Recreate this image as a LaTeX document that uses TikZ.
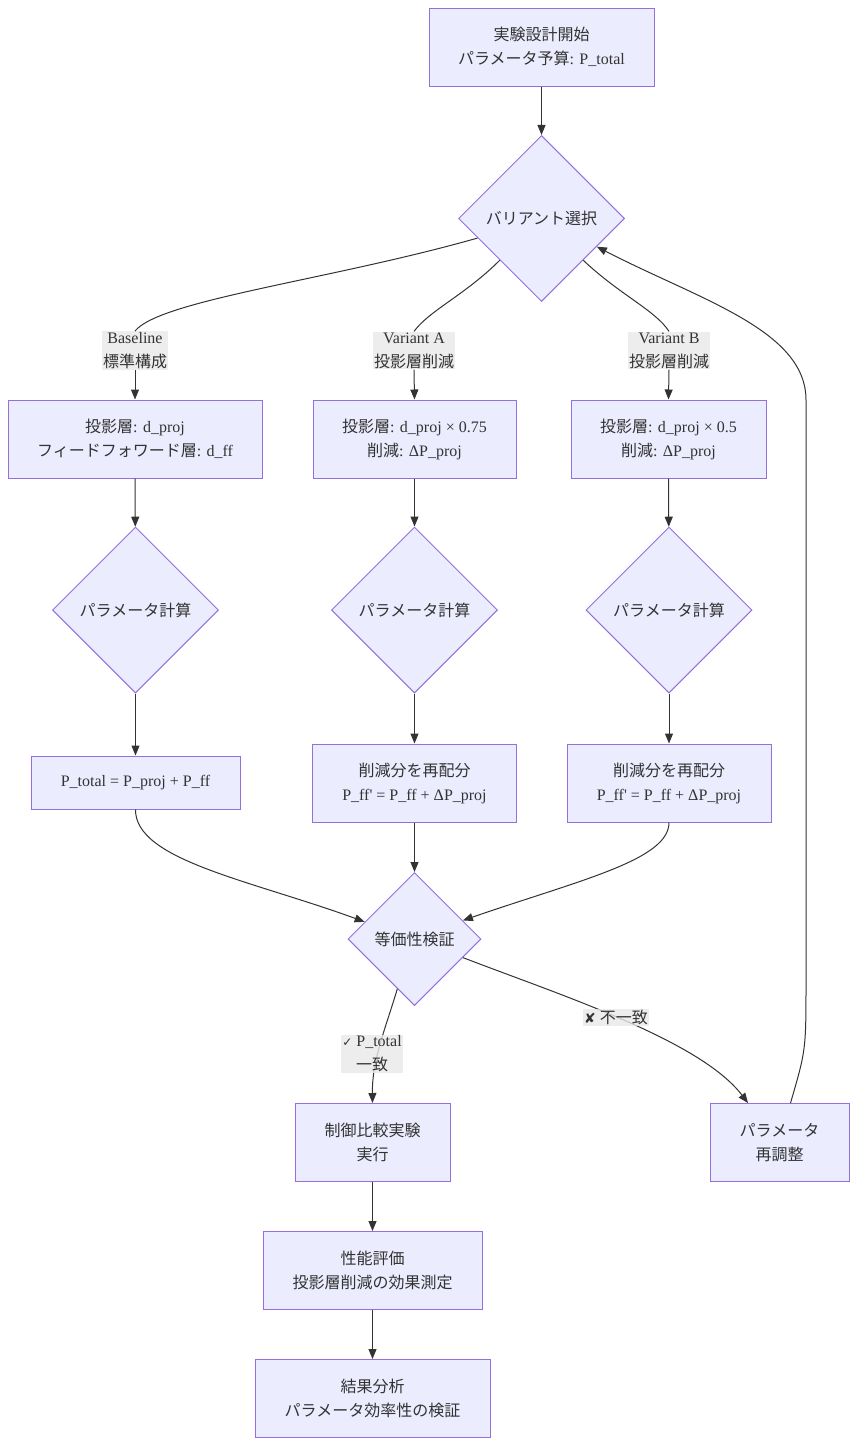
\documentclass[tikz,border=0pt]{standalone}
\usepackage{fontspec}
\setmainfont{Liberation Serif}
\newfontfamily\jp{Noto Sans CJK JP}
\newfontfamily\sym{DejaVu Sans}
\usepackage{tikz}
\usetikzlibrary{arrows.meta,positioning,shapes.geometric}
\definecolor{colorFill}{HTML}{ECECFF}
\definecolor{colorBorder}{HTML}{9370DB}
\definecolor{colorLine}{HTML}{333333}
\definecolor{colorLabel}{HTML}{E8E8E8}

\begin{document}
\begin{tikzpicture}[x=1pt,y=-1pt,
  every node/.style={text=colorLine,font=\fontsize{16pt}{24pt}\selectfont},
  procbox/.style={draw=colorBorder,fill=colorFill,line width=1pt,align=center,minimum height=78pt,inner sep=0pt},
  decision/.style={draw=colorBorder,fill=colorFill,line width=1pt,diamond,aspect=1,align=center,inner sep=0pt},
  edgelabel/.style={fill=colorLabel,fill opacity=0.8,text opacity=1,align=center,inner sep=1pt},
  flow/.style={draw=colorLine,line width=1pt,-{Triangle[length=10pt,width=8pt]}},
  plain/.style={draw=colorLine,line width=1pt}]
  \useasboundingbox (0,0) rectangle (858,1446);
  % top
  \node[procbox,minimum width=225pt] (start) at (541.5,47) {{\jp 実験設計開始}\\{\jp パラメータ予算}: P\_total};
  \node[decision,minimum width=166pt,minimum height=166pt] (sel) at (541.5,218.5) {{\jp バリアント選択}};
  % variant labels
  \node[edgelabel] (lblBase) at (135,350.5) {Baseline\\{\jp 標準構成}};
  \node[edgelabel] (lblA) at (414,350.5) {Variant A\\{\jp 投影層削減}};
  \node[edgelabel] (lblB) at (669,350.5) {Variant B\\{\jp 投影層削減}};
  % first row
  \node[procbox,minimum width=254pt] (base1) at (135,439) {{\jp 投影層}: d\_proj\\{\jp フィードフォワード層}: d\_ff};
  \node[procbox,minimum width=203pt] (varA1) at (414.5,439) {{\jp 投影層}: d\_proj × 0.75\\{\jp 削減}: ΔP\_proj};
  \node[procbox,minimum width=195pt] (varB1) at (668.5,439) {{\jp 投影層}: d\_proj × 0.5\\{\jp 削減}: ΔP\_proj};
  % calculation
  \node[decision,minimum width=166pt,minimum height=166pt] (calcBase) at (135.5,610) {{\jp パラメータ計算}};
  \node[decision,minimum width=166pt,minimum height=166pt] (calcA) at (414.5,610) {{\jp パラメータ計算}};
  \node[decision,minimum width=166pt,minimum height=166pt] (calcB) at (669,610) {{\jp パラメータ計算}};
  % second row
  \node[procbox,minimum width=209pt,minimum height=53pt] (base2) at (135.5,782.5) {P\_total = P\_proj + P\_ff};
  \node[procbox,minimum width=204pt] (varA2) at (414.5,783) {{\jp 削減分を再配分}\\P\_ff\textquotesingle{} = P\_ff + ΔP\_proj};
  \node[procbox,minimum width=204pt] (varB2) at (669,783) {{\jp 削減分を再配分}\\P\_ff\textquotesingle{} = P\_ff + ΔP\_proj};
  % check
  \node[decision,minimum width=133pt,minimum height=133pt] (check) at (414.5,939) {{\jp 等価性検証}};
  \node[procbox,minimum width=155pt] (run) at (372.5,1142.5) {{\jp 制御比較実験}\\{\jp 実行}};
  \node[procbox,minimum width=139pt] (adjust) at (779.5,1142.5) {{\jp パラメータ}\\{\jp 再調整}};
  \node[procbox,minimum width=219pt] (eval) at (372.5,1270.5) {{\jp 性能評価}\\{\jp 投影層削減の効果測定}};
  \node[procbox,minimum width=235pt] (result) at (372.5,1398.5) {{\jp 結果分析}\\{\jp パラメータ効率性の検証}};

  % connectors
  \draw[flow] (start) -- (sel);
  \draw[plain] (sel.197) .. controls (330,280) and (160,300) .. (lblBase.north);
  \draw[plain] (sel.south west) .. controls (465,295) and (430,310) .. (lblA.north);
  \draw[plain] (sel.south east) .. controls (620,295) and (655,310) .. (lblB.north);
  \draw[flow] (lblBase.south) -- (base1.north);
  \draw[flow] (lblA.south) -- (varA1.north);
  \draw[flow] (lblB.south) -- (varB1.north);
  \draw[flow] (base1) -- (calcBase);
  \draw[flow] (varA1) -- (calcA);
  \draw[flow] (varB1) -- (calcB);
  \draw[flow] (calcBase) -- (base2);
  \draw[flow] (calcA) -- (varA2);
  \draw[flow] (calcB) -- (varB2);
  \draw[flow] (base2.south) .. controls (135,860) and (250,880) .. (check.161);
  \draw[flow] (varA2) -- (check);
  \draw[flow] (varB2.south) .. controls (669,860) and (580,880) .. (check.21);
  \draw[flow] (check.251) .. controls (385,1030) and (372,1060) .. (run.north);
  \draw[flow] (check.339) .. controls (560,995) and (700,1040) .. ([xshift=-31.5pt]adjust.north);
  \draw[flow] ([xshift=11pt]adjust.north) .. controls (806,1050) .. (806,980) -- (806,400) .. controls (806,330) and (700,300) .. (sel.333);
  \draw[flow] (run) -- (eval);
  \draw[flow] (eval) -- (result);
  % result labels
  \node[edgelabel] (lblOk) at (372,1054) {{\sym\fontsize{12pt}{24pt}\selectfont ✓} P\_total\\{\jp 一致}};
  \node[edgelabel] (lblNg) at (616,1017.5) {{\sym\fontsize{14pt}{24pt}\selectfont ✘} {\jp 不一致}};
\end{tikzpicture}
\end{document}
